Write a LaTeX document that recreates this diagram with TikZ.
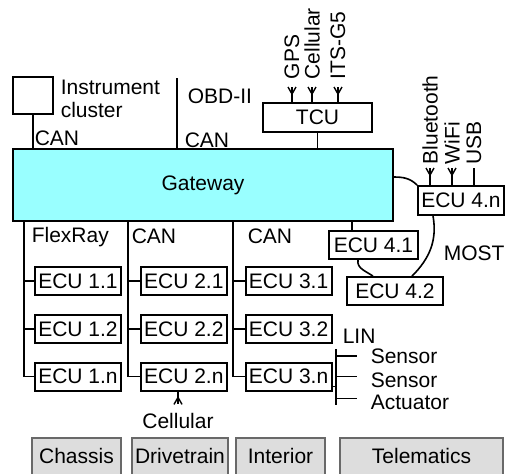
\documentclass[tikz,border=0pt]{standalone}
\usepackage{fontspec}
\setmainfont{Liberation Sans}
\usetikzlibrary{positioning}
\definecolor{gwcyan}{RGB}{153,255,255}
\definecolor{domfill}{RGB}{221,221,221}
\definecolor{domline}{RGB}{105,105,105}
\tikzset{
  box/.style={draw, fill=white, line width=0.9pt, inner sep=0pt, minimum height=14pt},
  ecu/.style={box, minimum width=43pt},
  dombox/.style={draw=domline, fill=domfill, line width=0.8pt, inner sep=0pt, text height=13pt, text depth=15pt, anchor=north},
  lbl/.style={inner sep=0pt, anchor=base west},
  vlbl/.style={inner sep=0pt, rotate=90, anchor=west},
  antenna/.pic={\draw[line width=0.7pt] (-4,0) -- (0,7) -- (4,0);}
}
\begin{document}
\begin{tikzpicture}[x=0.5pt, y=-0.5pt, line width=0.8pt, every node/.style={font=\fontsize{10.5pt}{11.5pt}\selectfont}]
\clip (0,0) rectangle (507,473);
%% Top row: instrument cluster, OBD-II port and the TCU with its antennas
    \node[box, minimum width=20pt, minimum height=18.5pt] (ic) at (33,95.5) {};
    \node[lbl, anchor=north west, align=left] (iclabel) at (60,79) {Instrument\\cluster};
    \coordinate (obd) at (177,78);
    \node[lbl] (obdlabel) at (187,103) {OBD-II};
    \node[box, minimum width=54.5pt, minimum height=14.5pt] (tcu) at (317.5,117.5) {TCU};
    \node[vlbl] (gps) at (292,80) {GPS};
    \node[vlbl] (cellular) at (312,80) {Cellular};
    \node[vlbl] (its) at (338,80) {ITS-G5};
    \foreach \n in {gps,cellular,its}
      \draw (\n.west |- tcu.north) -- ([yshift=-3.5pt]\n.west) pic {antenna};
%% The gateway in the middle
    \node[box, fill=gwcyan, minimum width=190pt, minimum height=36pt] (gw) at (203,185) {Gateway};
    \draw (ic.south) -- (ic.south |- gw.north);
    \draw (obd) -- (obd |- gw.north);
    \draw (tcu.south) -- (tcu.south |- gw.north);
    \node[lbl] (can0) at (34,145) {CAN};
    \node[lbl] (can1) at (184,147) {CAN};
%% Three buses below the gateway, each with its ECUs
    \node[ecu] (ecu11) at (78,281) {ECU 1.1};
    \node[ecu, below=9pt of ecu11] (ecu12) {ECU 1.2};
    \node[ecu, below=9pt of ecu12] (ecu1n) {ECU 1.n};
    \node[ecu, right=9pt of ecu11] (ecu21) {ECU 2.1};
    \node[ecu, below=9pt of ecu21] (ecu22) {ECU 2.2};
    \node[ecu, below=9pt of ecu22] (ecu2n) {ECU 2.n};
    \node[ecu, right=8.5pt of ecu21] (ecu31) {ECU 3.1};
    \node[ecu, below=9pt of ecu31] (ecu32) {ECU 3.2};
    \node[ecu, below=9pt of ecu32] (ecu3n) {ECU 3.n};
    \coordinate (bus1) at (24,221);
    \coordinate (bus2) at (128,221);
    \coordinate (bus3) at (233,221);
    \foreach \g in {1,2,3} {
      \draw (bus\g |- gw.south) |- (ecu\g n.west);
      \draw (ecu\g1.west) -- (ecu\g1.west -| bus\g);
      \draw (ecu\g2.west) -- (ecu\g2.west -| bus\g);
    }
    \node[lbl] (flexray) at (31,242) {FlexRay};
    \node[lbl] (can2) at (131,243) {CAN};
    \node[lbl] (can3) at (247,243) {CAN};
%% Cellular antenna under ECU 2.n
    \node[inner sep=0pt, anchor=base] (cell) at (178,428) {Cellular};
    \draw (cell.north |- ecu2n.south) -- ([yshift=3.8pt]cell.north) pic[rotate=180] {antenna};
%% LIN bus off ECU 3.n
    \node[lbl] (lin) at (342,343) {LIN};
    \node[lbl] (s1) at (370,363) {Sensor};
    \node[lbl] (s2) at (370,387) {Sensor};
    \node[lbl] (act) at (370,409) {Actuator};
    \coordinate (lintop) at (336,349);
    \coordinate (linbot) at (336,405);
    \draw (lintop) -- (linbot);
    \draw ([yshift=-5pt]ecu3n.east) -- ([yshift=-5pt]ecu3n.east -| lintop);
    \draw (s1.west -| lintop) -- ([xshift=-6.5pt]s1.west);
    \draw ([yshift=1.6pt]s2.west -| lintop) -- ([xshift=-6.5pt,yshift=1.6pt]s2.west);
    \draw ([yshift=1.6pt]act.west -| lintop) -- ([xshift=-6.5pt,yshift=1.6pt]act.west);
%% Telematics ECUs on the MOST ring
    \node[ecu, minimum height=14.5pt] (ecu4n) at (461,200.5) {ECU 4.n};
    \node[ecu, minimum width=44.5pt] (ecu41) at (373.5,245) {ECU 4.1};
    \node[ecu, minimum width=48pt] (ecu42) at (395,291) {ECU 4.2};
    \coordinate (m41) at ([xshift=-10.75pt]ecu41.north);
    \draw (m41) -- (m41 |- gw.south);
    \draw ([yshift=4pt]gw.east) to[out=0,in=135] (ecu4n.north west);
    \draw ([xshift=-14pt]ecu4n.south) to[out=-80,in=45] ([xshift=8.5pt]ecu42.north);
    \draw ([xshift=-7.75pt]ecu41.south) to[out=-100,in=145] ([xshift=-11pt]ecu42.north);
    \node[lbl] (most) at (443,260) {MOST};
    \node[vlbl] (bt) at (430,165) {Bluetooth};
    \node[vlbl] (wifi) at (452,165) {WiFi};
    \node[vlbl] (usb) at (474,165) {USB};
    \foreach \n in {bt,wifi}
      \draw (\n.west |- ecu4n.north) -- ([yshift=-1.5pt]\n.west) pic {antenna};
    \draw (usb.west |- ecu4n.north) -- ([yshift=-1.5pt]usb.west);
%% Domains along the bottom edge
    \node[dombox, minimum width=44.5pt] (chassis) at (76.5,437) {Chassis};
    \node[dombox, minimum width=48pt] (drive) at (180,437) {Drivetrain};
    \node[dombox, minimum width=44.5pt] (interior) at (280.5,437) {Interior};
    \node[dombox, minimum width=81.5pt] (tele) at (421.5,437) {Telematics};
\end{tikzpicture}
\end{document}
